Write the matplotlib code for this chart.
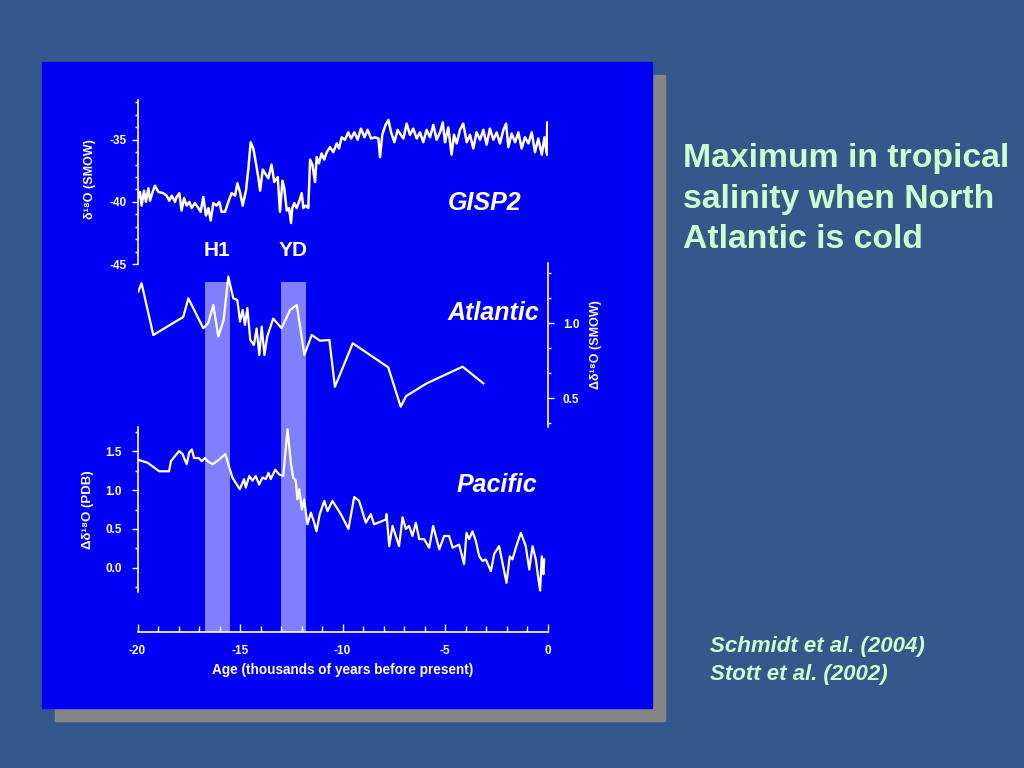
import matplotlib
matplotlib.use("Agg")
import matplotlib.pyplot as plt
from matplotlib.patches import Rectangle
from matplotlib.ticker import MultipleLocator, AutoMinorLocator

# --- data ---
gisp2_age = [-19.96, -19.88, -19.80, -19.68, -19.59, -19.47, -19.39, -19.26, -19.15, -18.98,
             -18.74, -18.58, -18.45, -18.33, -18.17, -18.09, -17.96, -17.85, -17.73, -17.60,
             -17.47, -17.36, -17.20, -17.03, -16.92, -16.79, -16.66, -16.54, -16.43, -16.30,
             -16.14, -16.01, -15.90, -15.73, -15.57, -15.41, -15.24, -15.13, -15.00, -14.87,
             -14.71, -14.59, -14.48, -14.35, -14.22, -14.10, -14.02, -13.89,
             -13.78, -13.62, -13.46, -13.33, -13.16, -13.05, -12.93, -12.84, -12.72, -12.61,
             -12.51, -12.45, -12.35, -12.24, -12.12, -11.99, -11.91, -11.80, -11.67, -11.58,
             -11.47, -11.34, -11.26, -11.15, -11.02, -10.89, -10.77, -10.61, -10.45, -10.28,
             -10.17, -10.04, -9.88, -9.72, -9.58, -9.42, -9.26, -9.10, -8.93, -8.77,
             -8.61, -8.41, -8.25, -8.17, -8.06, -7.90, -7.76, -7.63, -7.47, -7.31,
             -7.20, -7.03, -6.87, -6.71, -6.55, -6.38, -6.22, -6.06, -5.90, -5.73,
             -5.57, -5.41, -5.24, -5.11, -5.00, -4.84, -4.68, -4.56, -4.43, -4.27,
             -4.11, -3.94, -3.78, -3.62, -3.46, -3.29, -3.13, -2.97, -2.81, -2.64,
             -2.48, -2.32, -2.15, -2.02, -1.91, -1.75, -1.58, -1.42, -1.26, -1.10,
             -0.93, -0.77, -0.61, -0.45, -0.28, -0.15, -0.04, -0.01, 0.0]
gisp2_d18o = [-39.6, -39.2, -40.3, -39.1, -40.0, -38.9, -39.9, -39.2, -38.7, -39.2,
              -39.3, -39.5, -39.9, -39.5, -40.0, -39.6, -39.3, -40.7, -39.7, -40.3,
              -40.0, -40.5, -40.1, -40.5, -40.8, -39.6, -41.1, -40.5, -41.5, -40.1,
              -40.3, -40.0, -40.8, -40.8, -40.0, -39.3, -39.5, -38.5, -39.2, -40.3,
              -39.1, -37.3, -35.2, -35.7, -36.9, -38.1, -39.1, -37.4,
              -37.7, -38.1, -37.0, -38.4, -38.0, -40.8, -38.3, -38.9, -40.7, -40.5,
              -41.7, -40.5, -40.1, -40.5, -40.0, -39.3, -40.5, -40.3, -40.5, -36.6,
              -37.0, -38.4, -36.4, -36.9, -36.1, -36.6, -36.0, -35.6, -36.0, -35.3,
              -35.7, -34.8, -35.0, -34.4, -34.9, -34.4, -35.0, -34.1, -34.8, -34.2,
              -34.9, -34.8, -34.9, -36.4, -34.6, -33.8, -33.4, -34.4, -35.2, -34.2,
              -34.5, -34.9, -33.7, -34.6, -34.1, -34.9, -34.4, -35.2, -34.2, -34.8,
              -33.8, -35.0, -34.4, -33.6, -35.2, -34.0, -36.2, -34.6, -35.3, -34.2,
              -33.7, -35.2, -34.6, -35.7, -34.4, -35.0, -34.2, -35.4, -34.1, -35.0,
              -34.4, -35.3, -34.2, -33.7, -35.6, -34.5, -35.2, -34.4, -35.7, -34.8,
              -35.3, -34.4, -36.0, -34.9, -36.2, -34.8, -36.1, -33.6, -36.2]

atl_age = [-19.96, -19.80, -19.23, -17.77, -17.52, -16.79, -16.55, -16.30, -16.06, -15.80,
           -15.57, -15.33, -15.13, -15.00, -14.87, -14.76, -14.64, -14.50, -14.32, -14.19,
           -14.06, -13.94, -13.81, -13.67, -13.38, -12.97, -12.56, -12.23, -11.86, -11.50,
           -11.10, -10.64, -10.37, -9.50, -7.77, -7.16, -6.90, -5.89, -4.14, -3.13]
atl_d18o = [1.21, 1.265, 0.92, 1.04, 1.165, 0.965, 1.00, 1.12, 0.91, 1.02,
            1.31, 1.165, 1.153, 1.01, 1.087, 0.987, 1.10, 0.887, 0.853, 0.964,
            0.787, 0.976, 0.787, 0.91, 1.03, 0.965, 1.087, 1.12, 0.787, 0.92,
            0.882, 0.887, 0.575, 0.865, 0.705, 0.442, 0.513, 0.598, 0.709, 0.598]

pac_age = [-20.0, -19.51, -18.94, -18.46, -18.37, -17.97, -17.80, -17.60, -17.48, -17.35,
           -17.24, -17.02, -16.86, -16.70, -16.59, -16.34, -16.02, -15.72, -15.37, -15.01,
           -14.80, -14.72, -14.55, -14.39, -14.23, -14.07, -13.90, -13.74, -13.61, -13.50,
           -13.28, -13.09, -12.89, -12.68, -12.52, -12.41, -12.28, -12.20, -12.11, -11.98,
           -11.87, -11.71, -11.54, -11.38, -11.27, -11.11, -10.89, -10.73, -10.49, -10.08,
           -9.71, -9.43, -9.19, -8.86, -8.62, -8.46, -7.89, -7.85, -7.72, -7.56,
           -7.40, -7.24, -7.07, -6.91, -6.75, -6.59, -6.42, -6.26, -6.02, -5.77,
           -5.58, -5.28, -5.04, -4.80, -4.63, -4.31, -4.07, -3.95, -3.82, -3.66,
           -3.50, -3.33, -3.17, -3.01, -2.76, -2.60, -2.36, -2.00, -1.84, -1.71,
           -1.52, -1.30, -1.06, -0.89, -0.73, -0.57, -0.44, -0.36, -0.28, -0.20, -0.16]
pac_d18o = [1.39, 1.35, 1.24, 1.24, 1.37, 1.50, 1.46, 1.33, 1.48, 1.52,
            1.41, 1.41, 1.37, 1.41, 1.37, 1.33, 1.39, 1.46, 1.16, 1.01,
            1.14, 1.03, 1.18, 1.12, 1.18, 1.07, 1.16, 1.14, 1.22, 1.14,
            1.26, 1.20, 1.18, 1.78, 1.35, 1.16, 1.12, 0.88, 1.01, 0.75,
            0.88, 0.56, 0.71, 0.58, 0.47, 0.69, 0.86, 0.73, 0.86, 0.69,
            0.50, 0.91, 0.86, 0.58, 0.69, 0.56, 0.62, 0.69, 0.28, 0.54,
            0.41, 0.28, 0.65, 0.50, 0.54, 0.41, 0.58, 0.37, 0.37, 0.26,
            0.54, 0.24, 0.41, 0.41, 0.26, 0.30, 0.05, 0.45, 0.37, 0.47,
            0.35, 0.15, 0.09, 0.11, -0.04, 0.18, 0.28, -0.19, 0.15, 0.11,
            0.28, 0.45, 0.28, -0.02, 0.28, 0.11, -0.15, -0.29, 0.15, -0.08, 0.11]

events = ["H1", "YD"]
event_start = [-16.7, -13.0]
event_end = [-15.5, -11.8]

W, H = 1024, 768
BG = "#33598c"
PANEL = "#0000f5"
SHADOW = "#858585"
BAR = "#8080ff"
TXT = "#ccffcc"
FONT = ["Liberation Sans", "DejaVu Sans"]

plt.rcParams["font.family"] = FONT
plt.rcParams["font.weight"] = "bold"
plt.rcParams["axes.unicode_minus"] = False


def box(x0, y0, x1, y1):
    # pixel box (top-left origin) -> figure fraction rect
    return [x0 / W, 1 - y1 / H, (x1 - x0) / W, (y1 - y0) / H]


def bare(ax):
    ax.set_facecolor("none")
    for s in ax.spines.values():
        s.set_visible(False)
        s.set_color("white")
        s.set_linewidth(1.2)
    ax.tick_params(colors="white", labelsize=8.5, width=1, which="both")
    ax.set_xlim(-20, 0)


fig = plt.figure(figsize=(W / 100, H / 100), dpi=100)
fig.set_facecolor(BG)

# slide panel with drop shadow (kept below the axes)
fig.patches.append(Rectangle((55 / W, 1 - 721 / H), 610 / W, 646 / H,
                             transform=fig.transFigure, color=SHADOW, zorder=-2))
fig.patches.append(Rectangle((42 / W, 1 - 708 / H), 610 / W, 646 / H,
                             transform=fig.transFigure, color=PANEL, zorder=-1))

# shaded event bars + age axis
ax_bar = fig.add_axes(box(137.5, 282, 547.5, 632))
bare(ax_bar)
ax_bar.spines["bottom"].set_visible(True)
for s, e in zip(event_start, event_end):
    ax_bar.axvspan(s, e, color=BAR, lw=0)
ax_bar.set_ylim(0, 1)
ax_bar.set_yticks([])
ax_bar.xaxis.set_major_locator(MultipleLocator(5))
ax_bar.xaxis.set_minor_locator(MultipleLocator(1))
ax_bar.tick_params(axis="x", which="major", direction="in", length=6, pad=9)
ax_bar.tick_params(axis="x", which="minor", direction="in", length=4)
ax_bar.set_xlabel("Age (thousands of years before present)", color="white",
                  fontsize=9.8, fontweight="bold")
ax_bar.xaxis.set_label_coords(0.5, -0.088)

# GISP2
ax_g = fig.add_axes(box(137.5, 100, 547.5, 264))
bare(ax_g)
ax_g.spines["left"].set_visible(True)
ax_g.plot(gisp2_age, gisp2_d18o, color="white", lw=1.8)
ax_g.set_ylim(-45, -31.8)
ax_g.set_xticks([])
ax_g.yaxis.set_major_locator(MultipleLocator(5))
ax_g.yaxis.set_minor_locator(MultipleLocator(1))
ax_g.tick_params(axis="y", which="major", length=4, pad=4)
ax_g.tick_params(axis="y", which="minor", length=2.5)
ax_g.set_ylabel("δ¹⁸O (SMOW)", color="white", fontsize=9, fontweight="bold")
ax_g.yaxis.set_label_coords(-0.101, 0.52)

# Atlantic
ax_a = fig.add_axes(box(137.5, 263, 547.5, 427))
bare(ax_a)
ax_a.spines["right"].set_visible(True)
ax_a.plot(atl_age, atl_d18o, color="white", lw=1.6)
ax_a.set_ylim(0.307, 1.4)
ax_a.set_xticks([])
ax_a.yaxis.tick_right()
ax_a.yaxis.set_label_position("right")
ax_a.yaxis.set_major_locator(MultipleLocator(0.5))
ax_a.yaxis.set_minor_locator(AutoMinorLocator(3))
ax_a.yaxis.set_major_formatter(lambda v, p: f"{v:.1f}")
ax_a.tick_params(axis="y", which="major", length=4, pad=7)
ax_a.tick_params(axis="y", which="minor", length=2.5)
ax_a.set_ylabel("Δδ¹⁸O (SMOW)", color="white", fontsize=9, fontweight="bold",
                rotation=90)
ax_a.yaxis.set_label_coords(1.104, 0.5)

# Pacific
ax_p = fig.add_axes(box(137.5, 427, 547.5, 592))
bare(ax_p)
ax_p.spines["left"].set_visible(True)
ax_p.plot(pac_age, pac_d18o, color="white", lw=1.6)
ax_p.set_ylim(-0.308, 1.808)
ax_p.set_xticks([])
ax_p.yaxis.set_major_locator(MultipleLocator(0.5))
ax_p.yaxis.set_minor_locator(MultipleLocator(0.25))
ax_p.yaxis.set_major_formatter(lambda v, p: f"{v:.1f}")
ax_p.tick_params(axis="y", which="major", length=4, pad=7)
ax_p.tick_params(axis="y", which="minor", length=2.5)
ax_p.set_ylabel("Δδ¹⁸O (PDB)", color="white", fontsize=9.5, fontweight="bold")
ax_p.yaxis.set_label_coords(-0.106, 0.5)


def label(x, y, s, **kw):
    fig.text(x / W, 1 - y / H, s, ha="center", va="center", **kw)


label(485, 203, "GISP2", color="white", fontsize=18, style="italic", fontweight="bold")
label(493, 313, "Atlantic", color="white", fontsize=18, style="italic", fontweight="bold")
label(497, 485, "Pacific", color="white", fontsize=18, style="italic", fontweight="bold")
for name, s, e in zip(events, event_start, event_end):
    xc = 137.5 + ((s + e) / 2 + 20) * 20.5
    label(xc, 250, name, color="white", fontsize=15, fontweight="bold")

fig.text(683 / W, 1 - 143 / H, "Maximum in tropical\nsalinity when North\nAtlantic is cold",
         color=TXT, fontsize=24.3, fontweight="bold", ha="left", va="top", linespacing=1.4)
fig.text(710 / W, 1 - 636 / H, "Schmidt et al. (2004)\nStott et al. (2002)",
         color=TXT, fontsize=16, fontweight="bold", style="italic",
         ha="left", va="top", linespacing=1.45)

fig.savefig("out.png", dpi=100, facecolor=fig.get_facecolor())
